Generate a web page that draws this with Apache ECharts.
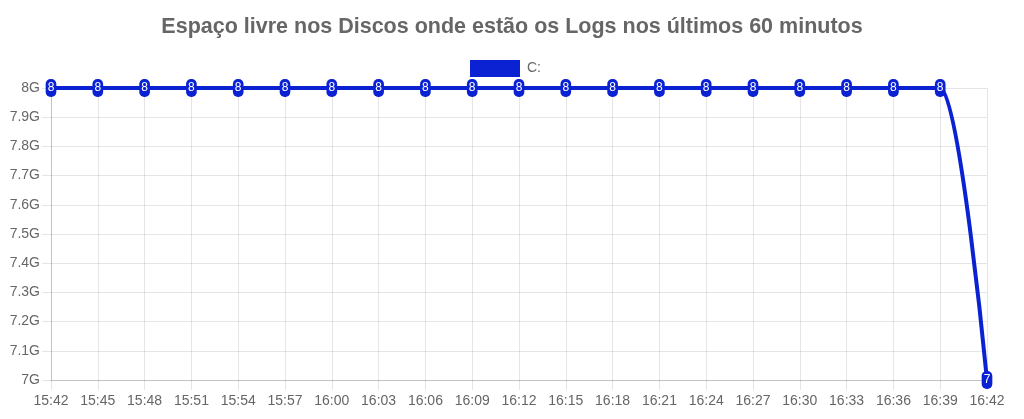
<!DOCTYPE html>
<html><head><meta charset="utf-8">
<script src="https://cdn.jsdelivr.net/npm/echarts@6/dist/echarts.min.js"></script>
<style>html,body{margin:0;padding:0;background:#fff}#c{width:1024px;height:419px}</style>
</head><body><div id="c"></div>
<script>
const categories = ['15:42','15:45','15:48','15:51','15:54','15:57','16:00','16:03','16:06','16:09','16:12','16:15','16:18','16:21','16:24','16:27','16:30','16:33','16:36','16:39','16:42'];
const seriesName = 'C:';
const values = [8,8,8,8,8,8,8,8,8,8,8,8,8,8,8,8,8,8,8,8,7];
const yMin = 7, yMax = 8, yStep = 0.1;
const titleText = 'Espaço livre nos Discos onde estão os Logs nos últimos 60 minutos';
const lineColor = '#0a22d2';
const font = '"Liberation Sans", Arial, sans-serif';

const chart = echarts.init(document.getElementById('c'), null, {renderer:'canvas'});
chart.setOption({
  animation:false,
  title:{text:titleText,left:'center',top:11,textStyle:{fontFamily:font,fontSize:21.5,fontWeight:'bold',color:'#666'}},
  legend:{top:60,left:470,itemWidth:50,itemHeight:17,itemGap:10,icon:'rect',padding:0,
    textStyle:{fontFamily:font,fontSize:14,color:'#666',padding:[0,0,0,2]},data:[{name:seriesName,itemStyle:{color:lineColor}}]},
  grid:{left:51,right:37,top:88,bottom:39,containLabel:false},
  xAxis:{type:'category',data:categories,boundaryGap:false,
    axisLine:{show:true,lineStyle:{color:'rgba(0,0,0,0.15)'}},
    axisTick:{show:true,length:10,lineStyle:{color:'rgba(0,0,0,0.1)'}},
    axisLabel:{fontFamily:font,fontSize:14,color:'#666',margin:14,interval:0},
    splitLine:{show:true,lineStyle:{color:'rgba(0,0,0,0.1)'}}},
  yAxis:{type:'value',min:yMin,max:yMax,interval:yStep,
    axisLine:{show:true,lineStyle:{color:'rgba(0,0,0,0.15)'}},
    axisTick:{show:true,length:9,lineStyle:{color:'rgba(0,0,0,0.1)'}},
    axisLabel:{fontFamily:font,fontSize:14,color:'#666',margin:11,formatter:v=>parseFloat(v.toFixed(1))+'G'},
    splitLine:{show:true,lineStyle:{color:'rgba(0,0,0,0.1)'}}},
  series:[{name:seriesName,type:'line',data:values,smooth:0.4,smoothMonotone:'x',
    symbol:'circle',symbolSize:1,showAllSymbol:true,
    itemStyle:{color:lineColor},lineStyle:{color:lineColor,width:4},
    label:{show:true,position:'inside',color:'#fff',fontFamily:font,fontSize:12,lineHeight:12,
      backgroundColor:lineColor,borderRadius:5,padding:[3,2,3,2],
      formatter:p=>Math.round(p.value)}}]
});
</script></body></html>
